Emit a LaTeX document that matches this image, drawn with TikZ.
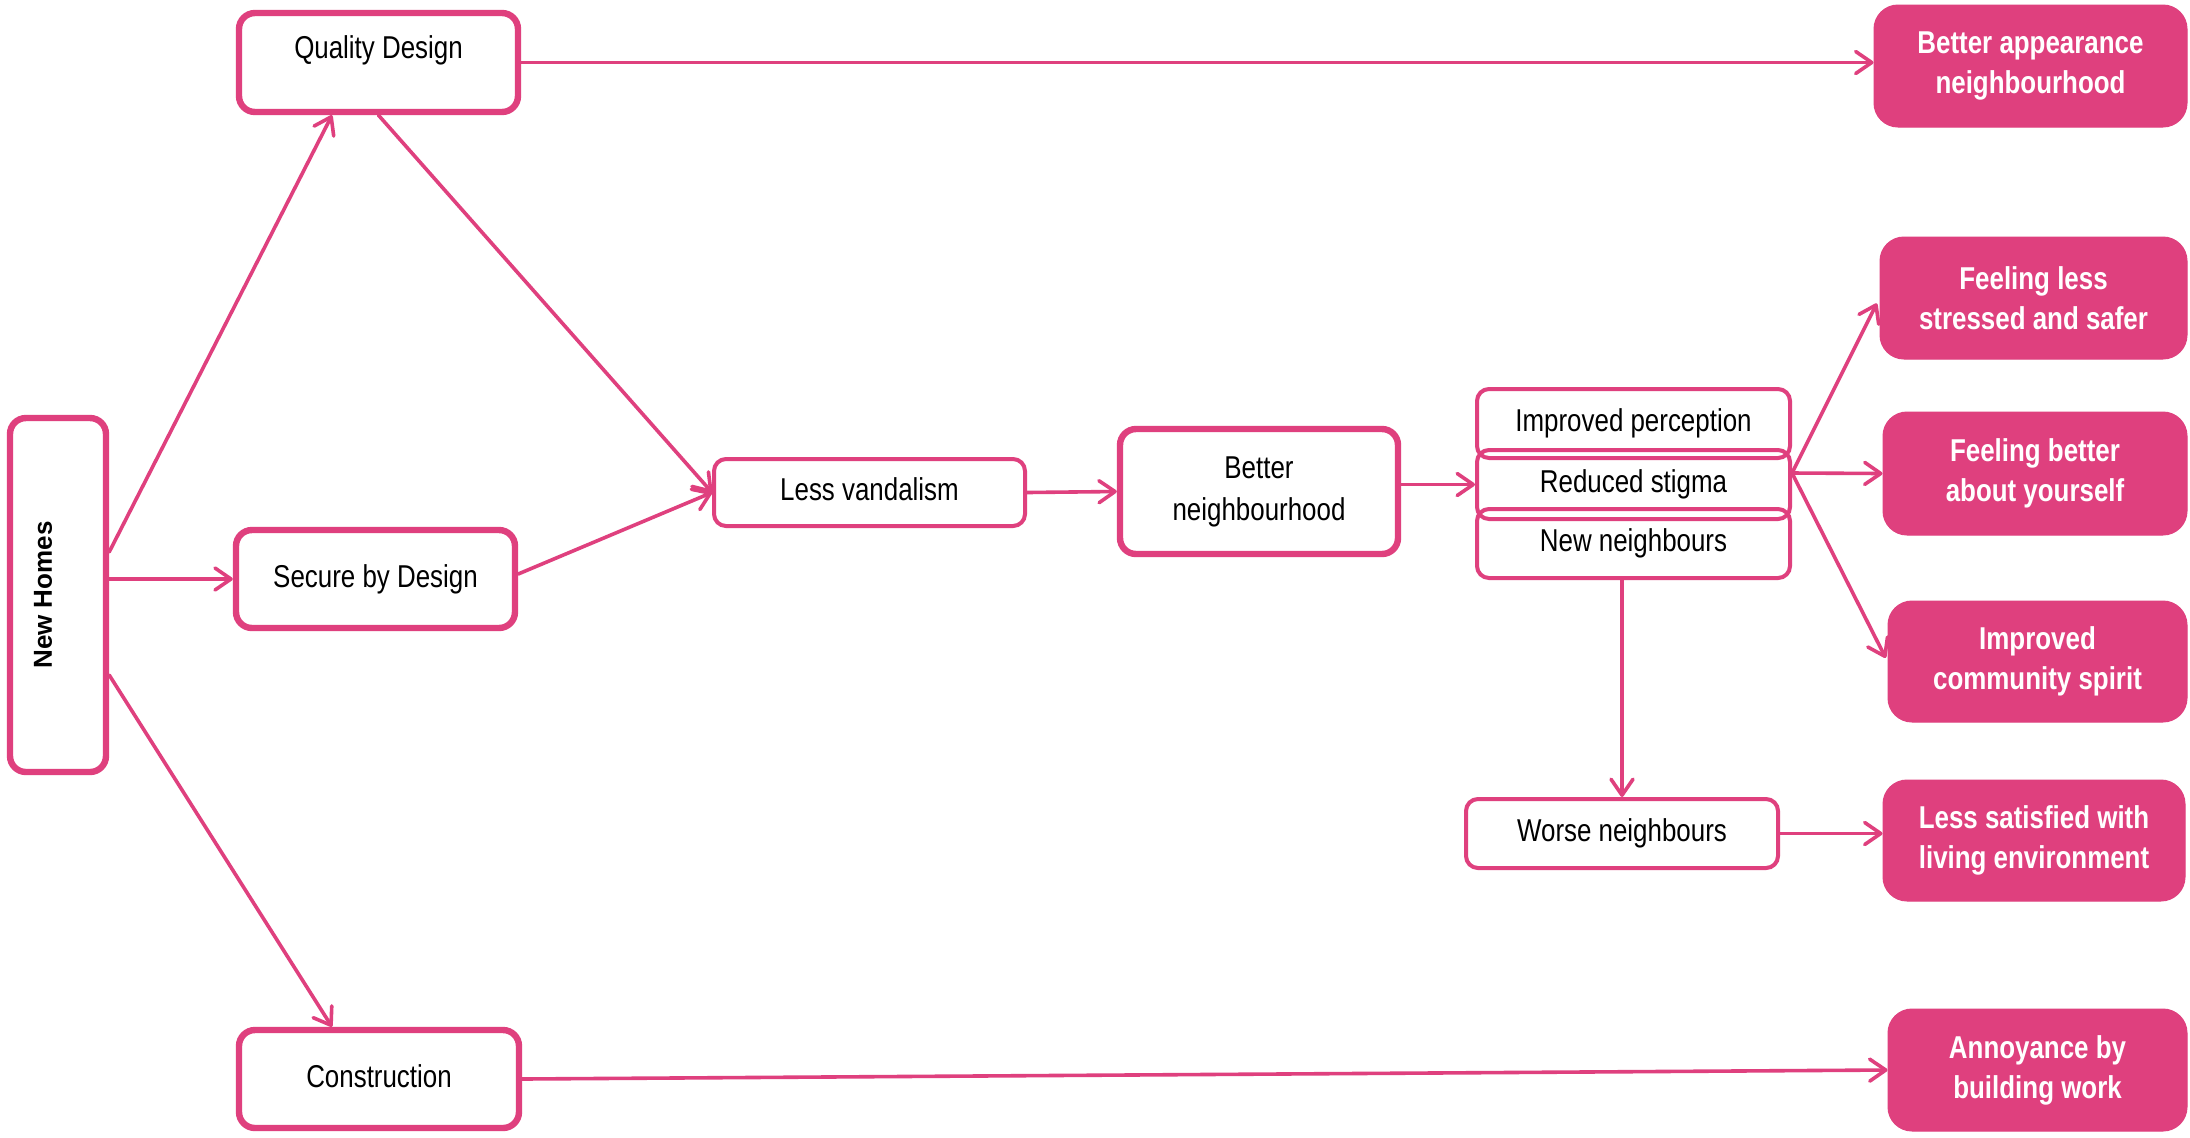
\documentclass[tikz,border=0pt]{standalone}
\usepackage{fontspec}
\setmainfont{Liberation Sans}[FakeStretch=0.82]
\newfontfamily\nhfont{Liberation Sans}
\usetikzlibrary{arrows.meta}
\definecolor{pk}{HTML}{DF407E}
\begin{document}
\begin{tikzpicture}[x=0.5pt,y=-0.5pt,
  base/.style={align=center, inner sep=0pt, font=\fontsize{15.8}{21}\selectfont},
  single/.style={text height=11.5pt, text depth=3.5pt},
  thickbox/.style={base, draw=pk, line width=3.2pt, rounded corners=8pt},
  thinbox/.style={base, draw=pk, line width=2pt, rounded corners=6pt},
  pinkbox/.style={align=center, inner sep=0pt, fill=pk, draw=pk, line width=0.5pt,
    rounded corners=12pt, text=white, font=\bfseries\fontsize{15.8}{20}\selectfont},
  arr/.style={draw=pk, line width=1.8pt, line cap=round,
    -{Straight Barb[length=8pt,width=11pt,round]}}
]
\fill[white] (0,0) rectangle (2190,1137);
\useasboundingbox (0,0) rectangle (2190,1137);

% left column
\node[thickbox, minimum width=48pt, minimum height=177pt] (NH) at (58,595) {};
\node[rotate=90, inner sep=0pt, font=\nhfont\bfseries\fontsize{13}{15}\selectfont] (NHl) at (43,595) {New Homes};

\node[thickbox, single, text depth=15.2pt, minimum width=139.5pt, minimum height=49.5pt] (QD) at (378.5,62.5) {Quality Design};
\node[thickbox, single, minimum width=139.5pt, minimum height=49pt] (SD) at (375.5,579) {Secure by Design};
\node[thickbox, single, minimum width=140pt, minimum height=49pt] (CO) at (379,1079) {Construction};

% middle
\node[thinbox, single, minimum width=155.5pt, minimum height=33.5pt] (LV) at (869.5,492.5) {Less vandalism};
\node[thickbox, minimum width=139pt, minimum height=62.5pt] (BN) at (1259,491.5) {Better\\neighbourhood};

% stack
\node[thinbox, single, minimum width=156.5pt, minimum height=34.5pt] (IP) at (1633.5,423.5) {Improved perception};
\node[thinbox, single, minimum width=156.5pt, minimum height=34.5pt] (RS) at (1633.5,484.5) {Reduced stigma};
\node[thinbox, single, minimum width=156.5pt, minimum height=34.5pt] (NN) at (1633.5,543.5) {New neighbours};
\node[thinbox, single, minimum width=156pt, minimum height=34.5pt] (WN) at (1622,833.5) {Worse neighbours};

% outcomes
\node[pinkbox, minimum width=156.5pt, minimum height=61pt] (BA) at (2030.5,66) {Better appearance\\neighbourhood};
\node[pinkbox, minimum width=153.5pt, minimum height=61pt] (FL) at (2033.5,298) {Feeling less\\stressed and safer};
\node[pinkbox, minimum width=152pt, minimum height=61.5pt] (FB) at (2035,473.5) {Feeling better\\about yourself};
\node[pinkbox, minimum width=149.5pt, minimum height=60.5pt] (IC) at (2037.5,661.5) {Improved\\community spirit};
\node[pinkbox, minimum width=151pt, minimum height=60.5pt] (LS) at (2034,840.5) {Less satisfied with\\living environment};
\node[pinkbox, minimum width=149.5pt, minimum height=61pt] (AN) at (2037.5,1070) {Annoyance by\\building work};

% connectors
\draw[arr] ([yshift=21.5pt]NH.east) -- ([xshift=-23.25pt]QD.south);
\draw[arr] (NH.east |- SD.west) -- (SD.west);
\draw[arr] ([yshift=-40pt]NH.east) -- ([xshift=-23.5pt]CO.north);
\draw[arr] (QD.south) -- (LV.west);
\draw[arr] ([yshift=2.5pt]SD.east) -- (LV.west);
\draw[arr] (LV.east) -- (BN.west);
\draw[arr] (BN.east |- RS.west) -- (RS.west);
\coordinate (fan) at ([yshift=5.75pt]RS.east);
\draw[arr, shorten >=3pt] (fan) -- (FL.west);
\draw[arr] (fan) -- (FB.west);
\draw[arr, shorten >=2pt] (fan) -- (IC.west);
\draw[arr] (WN.north |- NN.south) -- (WN.north);
\draw[arr] (WN.east) -- (WN.east -| LS.west);
\draw[arr] (QD.east) -- (QD.east -| BA.west);
\draw[arr] (CO.east) -- (AN.west);
\end{tikzpicture}
\end{document}
